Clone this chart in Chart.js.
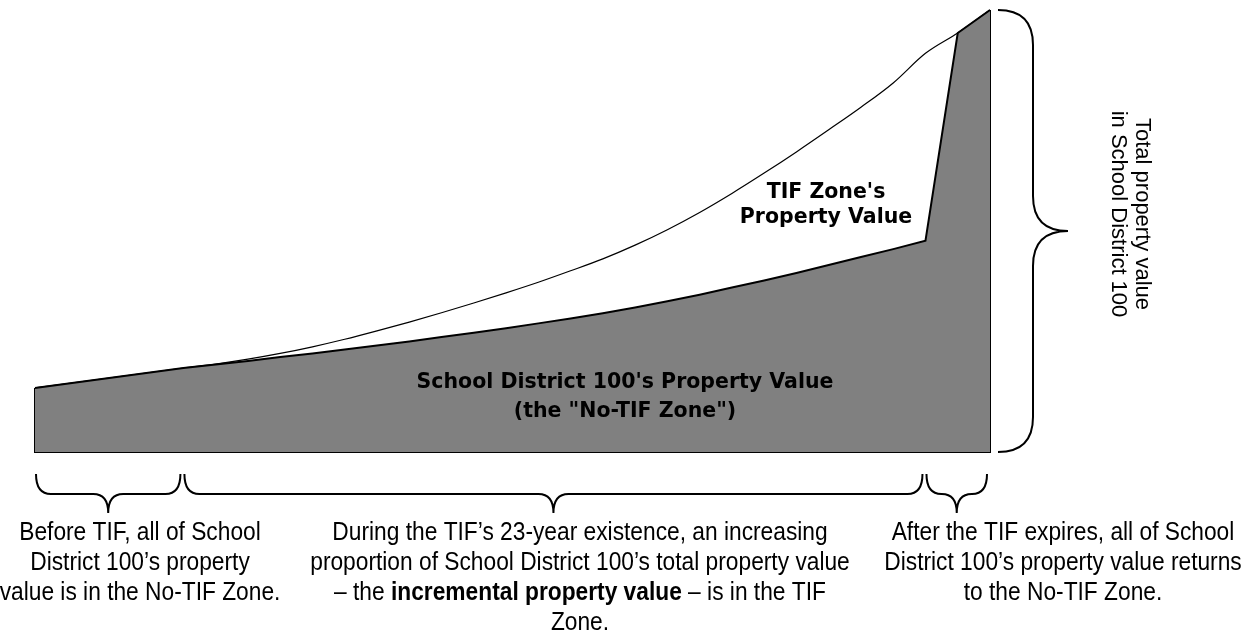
<!DOCTYPE html>
<html>
<head>
<meta charset="utf-8">
<script src="https://cdn.jsdelivr.net/npm/chart.js@4/dist/chart.umd.min.js"></script>
<style>
body{margin:0;background:#fff;}
#wrap{width:1257px;height:635px;position:relative;}
</style>
</head>
<body>
<div id="wrap"><canvas id="tifChart"></canvas></div>
<script>
// years relative to the start of the TIF (0) - it runs 23 years
const years = [-4.6, 0, 1, 2, 3, 4, 5, 6, 7, 8, 9, 10, 11, 12, 13, 14, 15, 16, 17, 18, 19, 20, 21, 22, 23, 24, 25];
// total property value in School District 100 (relative units)
const totalValue = [14.5, 19.0, 19.9, 21.0, 22.3, 23.8, 25.5, 27.4, 29.4, 31.5, 33.7, 36.0, 38.4, 41.0, 43.7, 46.8, 50.3, 54.2, 58.5, 63.1, 67.9, 72.9, 78.0, 83.5, 90.2, 94.8, 100];
// value outside the TIF zone ("No-TIF Zone")
const noTifValue = [14.5, 19.0, 19.8, 20.6, 21.5, 22.3, 23.2, 24.1, 25.0, 26.0, 27.0, 28.0, 29.1, 30.2, 31.4, 32.7, 34.1, 35.6, 37.2, 38.8, 40.5, 42.3, 44.1, 45.9, 47.8, 94.8, 100];
// the three periods marked with braces under the chart
const periodStart = [-4.6, 0, 23];
const periodEnd = [0, 23, 25];

const noTifLabel = ["School District 100's Property Value", '(the "No-TIF Zone")'];
const tifLabel = ["TIF Zone's", 'Property Value'];
const sideLabel = ['Total property value', 'in School District 100'];
const periodText = [
    ['Before TIF, all of School', 'District 100\u2019s property', 'value is in the No-TIF Zone.'],
    ['During the TIF\u2019s 23-year existence, an increasing',
     'proportion of School District 100\u2019s total property value',
     [['\u2013 the ', false], ['incremental property value', true], [' \u2013 is in the TIF', false]],
     'Zone.'],
    ['After the TIF expires, all of School', 'District 100\u2019s property value returns', 'to the No-TIF Zone.']
];

const pts = (vals) => years.map((x, i) => ({x: x, y: vals[i]}));
const first = years[0], last = years[years.length - 1];

function hBrace(ctx, x1, x2, yTop, yBar, yTip, r) {
    const m = (x1 + x2) / 2;
    ctx.beginPath();
    ctx.moveTo(x1, yTop);
    ctx.quadraticCurveTo(x1, yBar, x1 + r, yBar);
    ctx.lineTo(m - r, yBar);
    ctx.quadraticCurveTo(m, yBar, m, yTip);
    ctx.quadraticCurveTo(m, yBar, m + r, yBar);
    ctx.lineTo(x2 - r, yBar);
    ctx.quadraticCurveTo(x2, yBar, x2, yTop);
    ctx.stroke();
}

function vBrace(ctx, y1, y2, xEnd, xBar, xTip, r) {
    const m = (y1 + y2) / 2;
    ctx.beginPath();
    ctx.moveTo(xEnd, y1);
    ctx.quadraticCurveTo(xBar, y1, xBar, y1 + r);
    ctx.lineTo(xBar, m - r);
    ctx.quadraticCurveTo(xBar, m, xTip, m);
    ctx.quadraticCurveTo(xBar, m, xBar, m + r);
    ctx.lineTo(xBar, y2 - r);
    ctx.quadraticCurveTo(xBar, y2, xEnd, y2);
    ctx.stroke();
}

// no narrow font installed, so squeeze Liberation Sans a bit
const squeeze = 0.875;
const regular = '26px "Liberation Sans", Arial, sans-serif';
const boldFont = 'bold 26px "Liberation Sans", Arial, sans-serif';

function drawLine(ctx, line, cx, y) {
    const parts = typeof line === 'string' ? [[line, false]] : line;
    let w = 0;
    parts.forEach(p => { ctx.font = p[1] ? boldFont : regular; w += ctx.measureText(p[0]).width * squeeze; });
    let x = cx - w / 2;
    parts.forEach(p => {
        ctx.font = p[1] ? boldFont : regular;
        ctx.save();
        ctx.translate(x, y);
        ctx.scale(squeeze, 1);
        ctx.fillText(p[0], 0, 0);
        ctx.restore();
        x += ctx.measureText(p[0]).width * squeeze;
    });
}

const annotations = {
    id: 'annotations',
    afterDraw(chart) {
        const ctx = chart.ctx;
        const xs = chart.scales.x, ys = chart.scales.y;
        ctx.save();
        ctx.strokeStyle = '#000';
        ctx.fillStyle = '#000';
        ctx.lineWidth = 2;

        // right brace: whole height of the total value
        const yTop = ys.getPixelForValue(totalValue[totalValue.length - 1]);
        const yBot = ys.getPixelForValue(0);
        const xr = xs.getPixelForValue(last);
        vBrace(ctx, yTop, yBot, xr + 8, xr + 43, xr + 78, 35);

        // period braces
        for (let i = 0; i < periodStart.length; i++) {
            const a = xs.getPixelForValue(periodStart[i]) + 1;
            const b = xs.getPixelForValue(periodEnd[i]) - 3;
            hBrace(ctx, a, b, yBot + 22, yBot + 42, yBot + 61, 15);
        }

        // labels inside the chart
        ctx.textAlign = 'center';
        ctx.textBaseline = 'alphabetic';
        ctx.font = 'bold 20.5px "DejaVu Sans"';
        ctx.fillText(noTifLabel[0], 625, 388);
        ctx.fillText(noTifLabel[1], 625, 417);
        ctx.fillText(tifLabel[0], 826, 198);
        ctx.fillText(tifLabel[1], 826, 223);

        // rotated side label
        ctx.save();
        ctx.translate(1130, 214);
        ctx.rotate(Math.PI / 2);
        ctx.font = '22px "Liberation Sans", Arial, sans-serif';
        ctx.textBaseline = 'middle';
        ctx.fillText(sideLabel[0], 0, -12);
        ctx.fillText(sideLabel[1], 0, 12);
        ctx.restore();

        // period descriptions
        ctx.textAlign = 'left';
        const centers = [140, 580, 1063];
        periodText.forEach((block, i) => {
            block.forEach((line, j) => drawLine(ctx, line, centers[i], 540 + j * 30));
        });
        ctx.restore();
    }
};

new Chart(document.getElementById('tifChart'), {
    type: 'line',
    data: {
        datasets: [{
            label: 'No-TIF Zone',
            data: pts(noTifValue),
            borderColor: '#000',
            borderWidth: 2,
            backgroundColor: '#808080',
            fill: 'origin',
            pointRadius: 0,
            tension: 0,
            clip: false
        }, {
            label: 'Total',
            data: pts(totalValue),
            borderColor: '#000',
            borderWidth: 1.2,
            fill: false,
            pointRadius: 0,
            cubicInterpolationMode: 'monotone',
            clip: false
        }, {
            label: 'outline',
            data: [{x: first, y: noTifValue[0]}, {x: first, y: 0}, {x: last, y: 0}, {x: last, y: totalValue[totalValue.length - 1]}],
            borderColor: '#000',
            borderWidth: 2,
            fill: false,
            pointRadius: 0,
            clip: false
        }]
    },
    options: {
        responsive: true,
        maintainAspectRatio: false,
        animation: false,
        layout: {padding: {left: 35, right: 267, top: 10, bottom: 183}},
        scales: {
            x: {type: 'linear', min: first, max: last, display: false},
            y: {min: 0, max: 100, display: false}
        },
        plugins: {
            legend: {display: false},
            tooltip: {enabled: false}
        }
    },
    plugins: [annotations]
});
</script>
</body>
</html>
